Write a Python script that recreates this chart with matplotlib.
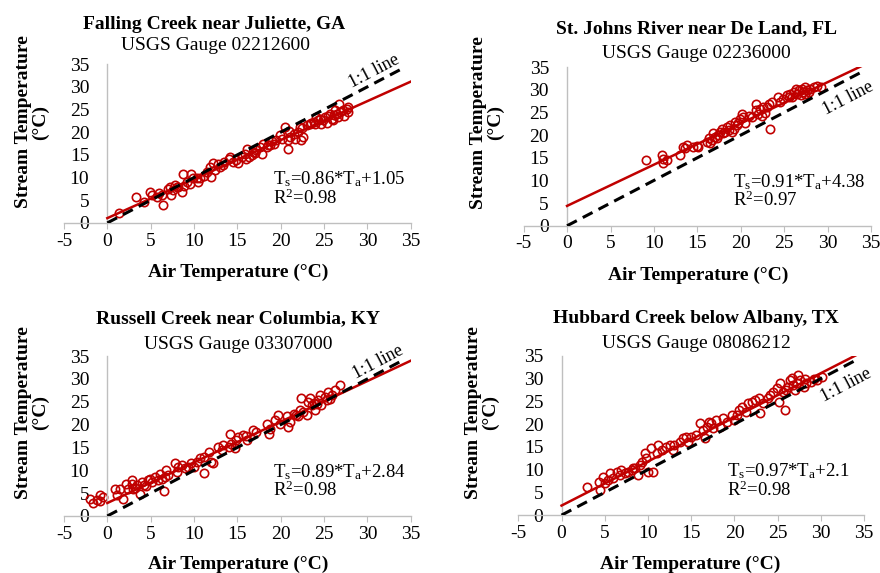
import matplotlib
matplotlib.use("Agg")
import matplotlib.pyplot as plt
import numpy as np

plt.rcParams['font.family'] = ['Liberation Serif', 'DejaVu Serif']
plt.rcParams['mathtext.fontset'] = 'custom'
plt.rcParams['mathtext.rm'] = 'Liberation Serif'
plt.rcParams['mathtext.it'] = 'Liberation Serif:italic'
plt.rcParams['mathtext.bf'] = 'Liberation Serif:bold'
plt.rcParams['axes.unicode_minus'] = False

# ---- data ----
titles = ["Falling Creek near Juliette, GA", "St. Johns River near De Land, FL",
          "Russell Creek near Columbia, KY", "Hubbard Creek below Albany, TX"]
gauges = ["USGS Gauge 02212600", "USGS Gauge 02236000",
          "USGS Gauge 03307000", "USGS Gauge 08086212"]
slopes = [0.86, 0.91, 0.89, 0.97]
intercepts = [1.05, 4.38, 2.84, 2.1]
intercept_txt = ["1.05", "4.38", "2.84", "2.1"]
r2_txt = ["0.98", "0.97", "0.98", "0.98"]

ga_x = [1.3, 3.3, 4.2, 4.9, 5.1, 5.7, 6.0, 6.3, 6.4, 7.0, 7.2, 7.4, 7.6, 7.8, 8.0, 8.2, 8.6, 8.7, 8.8,
        9.2, 9.5, 9.7, 9.9, 10.3, 10.5, 10.7, 11.1, 11.5, 11.8, 12.0, 12.2, 12.4, 12.8, 13.0, 13.4,
        13.5, 14.0, 14.2, 14.5, 14.9, 15.1, 15.5, 15.9, 16.0, 16.1, 16.3, 16.7, 16.8, 17.0, 17.2,
        17.6, 17.8, 18.0, 18.4, 18.5, 18.8, 19.0, 19.2, 19.5, 19.9, 20.1, 20.5, 20.8, 20.9, 21.0,
        21.1, 21.5, 21.7, 22.0, 22.2, 22.4, 22.5, 22.6, 23.0, 23.4, 23.5, 23.8, 24.0, 24.1, 24.3,
        24.5, 24.7, 24.9, 25.1, 25.3, 25.5, 25.7, 25.9, 26.0, 26.1, 26.3, 26.5, 26.6, 26.7, 26.8,
        27.2, 27.3, 27.6, 27.8, 27.8]
ga_y = [2.1, 5.7, 4.6, 6.8, 6.1, 5.7, 6.5, 6.1, 4.0, 7.5, 7.9, 6.1, 7.2, 8.4, 8.0, 7.9, 6.8, 10.7, 8.2,
        9.0, 8.6, 10.7, 9.8, 10.0, 9.0, 9.8, 10.4, 11.2, 12.4, 10.1, 13.1, 11.6, 12.9, 12.4, 12.7,
        13.5, 14.2, 14.6, 13.5, 13.8, 13.1, 14.6, 15.3, 14.2, 16.4, 14.6, 14.9, 15.7, 15.5, 16.0,
        16.8, 15.1, 17.5, 16.8, 17.2, 17.1, 18.0, 17.5, 18.2, 19.3, 18.6, 21.2, 18.2, 16.2, 20.3,
        19.0, 19.7, 18.6, 20.1, 21.2, 18.2, 21.0, 19.0, 21.5, 21.9, 22.0, 22.2, 21.8, 23.4, 22.6,
        22.9, 21.9, 22.6, 23.4, 22.0, 23.5, 24.1, 22.9, 22.7, 23.7, 24.9, 24.1, 23.3, 26.2, 24.5,
        24.9, 23.6, 25.2, 24.5, 25.6]

fl_x = [9.1, 10.9, 11.0, 11.0, 11.5, 13.0, 13.3, 13.6, 13.8, 14.5, 14.9, 15.1, 16.1, 16.3, 16.5,
        16.7, 16.8, 17.0, 17.2, 17.4, 17.6, 17.8, 18.0, 18.2, 18.4, 18.6, 18.8, 19.0, 19.2, 19.3,
        19.5, 19.7, 19.9, 20.1, 20.3, 20.5, 20.9, 21.3, 21.7, 21.8, 22.0, 22.2, 22.4, 22.6, 22.8,
        23.0, 23.2, 23.4, 23.6, 24.3, 24.5, 24.9, 25.3, 25.5, 25.7, 25.9, 26.1, 26.3, 26.5, 26.7,
        26.9, 27.0, 27.2, 27.4, 27.4, 27.6, 27.8, 28.0, 28.4, 28.8, 29.2]
fl_y = [14.5, 15.6, 14.8, 13.9, 14.6, 15.6, 17.4, 17.1, 17.8, 17.4, 17.6, 17.4, 18.5, 19.3, 18.2,
        19.0, 20.4, 19.6, 19.3, 20.0, 20.7, 21.4, 20.4, 20.7, 21.8, 21.1, 22.2, 20.7, 21.4, 22.9,
        22.2, 22.6, 23.6, 24.7, 24.0, 22.6, 24.3, 24.0, 26.9, 25.5, 24.7, 25.8, 24.3, 26.2, 24.8,
        26.2, 26.9, 21.4, 27.3, 28.4, 27.3, 28.0, 28.8, 28.4, 29.1, 28.4, 29.5, 30.2, 29.1, 29.9,
        28.8, 30.2, 29.5, 30.6, 29.1, 29.9, 29.5, 30.2, 30.6, 30.9, 30.7]

ky_x = [-2.0, -1.6, -1.2, -0.8, -0.8, -0.5, 0.9, 1.1, 1.5, 1.8, 2.2, 2.4, 2.8, 2.9, 3.0, 3.2, 3.4,
        3.8, 4.0, 4.2, 4.5, 4.7, 4.9, 5.1, 5.5, 5.9, 6.1, 6.3, 6.5, 6.7, 6.8, 7.0, 7.8, 8.0, 8.2,
        8.6, 9.0, 9.3, 9.7, 10.0, 10.3, 10.7, 11.1, 11.1, 11.7, 12.0, 12.2, 12.8, 13.2, 13.4, 14.0,
        14.2, 14.3, 14.7, 14.9, 15.1, 15.7, 16.0, 16.1, 16.8, 17.2, 18.4, 18.6, 18.8, 19.3, 19.7,
        19.9, 20.7, 20.9, 21.1, 21.5, 21.8, 22.0, 22.2, 22.4, 22.6, 23.0, 23.2, 23.4, 23.6, 23.8,
        24.0, 24.2, 24.3, 24.5, 24.7, 25.1, 25.3, 25.5, 25.7, 25.9, 26.3, 26.8]
ky_y = [3.8, 2.8, 3.4, 4.5, 3.3, 4.2, 5.8, 4.5, 6.0, 3.8, 7.1, 6.0, 7.1, 7.8, 6.0, 6.2, 6.7, 4.9,
        7.4, 6.7, 6.5, 7.8, 8.2, 7.4, 8.5, 7.8, 9.3, 8.2, 5.5, 8.5, 10.0, 9.0, 11.5, 9.6, 10.7,
        11.1, 10.4, 10.7, 11.5, 10.8, 11.8, 12.6, 9.4, 12.9, 14.0, 11.8, 11.5, 15.1, 14.4, 15.5,
        15.0, 18.0, 15.8, 14.8, 16.6, 17.3, 17.7, 17.5, 16.6, 18.8, 18.4, 20.2, 18.0, 19.1, 21.0,
        22.1, 20.2, 21.8, 19.5, 20.6, 22.4, 22.0, 21.8, 23.2, 25.8, 22.8, 22.1, 25.0, 25.8, 24.3,
        24.8, 23.2, 24.6, 25.3, 26.4, 24.3, 26.1, 25.5, 27.2, 25.7, 26.4, 27.5, 28.6]

tx_x = [2.9, 4.3, 4.4, 4.8, 5.0, 5.4, 5.6, 6.0, 6.4, 6.8, 6.9, 7.3, 7.7, 8.1, 8.3, 8.5, 8.9, 9.1,
        9.3, 9.6, 9.8, 10.0, 10.4, 10.6, 11.0, 11.2, 11.6, 12.1, 12.5, 12.9, 13.0, 13.7, 14.1, 14.4,
        14.6, 15.0, 15.6, 16.0, 16.4, 16.6, 16.8, 17.0, 17.3, 17.5, 17.9, 18.3, 18.7, 19.1, 19.7,
        19.9, 20.3, 20.5, 20.9, 21.3, 21.6, 22.0, 22.4, 22.8, 23.0, 23.3, 23.9, 24.1, 24.5, 24.9,
        25.1, 25.3, 25.6, 25.8, 26.0, 26.2, 26.4, 26.6, 26.8, 27.0, 27.2, 27.4, 27.6, 28.0, 28.2,
        28.3, 28.8, 29.2, 29.5, 30.1]
tx_y = [6.2, 7.3, 5.5, 8.4, 7.0, 7.7, 9.2, 8.1, 9.5, 8.8, 9.9, 9.2, 9.5, 9.9, 10.3, 10.3, 8.8, 11.0,
        11.7, 13.6, 12.5, 9.5, 14.7, 9.4, 13.6, 15.4, 14.3, 15.0, 15.4, 14.3, 15.4, 16.1, 16.9, 17.2,
        16.1, 17.2, 17.6, 20.2, 18.7, 16.9, 19.4, 20.5, 20.2, 19.1, 20.9, 19.4, 21.3, 20.5, 22.0,
        20.9, 22.0, 23.1, 23.8, 22.7, 24.6, 24.9, 25.3, 25.7, 22.4, 24.6, 25.7, 26.4, 27.1, 27.9,
        24.9, 29.0, 27.1, 23.1, 27.5, 28.2, 29.7, 30.1, 28.6, 27.5, 29.0, 30.8, 29.7, 28.2, 30.0,
        29.0, 29.3, 30.0, 29.7, 30.3]

xs = [ga_x, fl_x, ky_x, tx_x]
ys = [ga_y, fl_y, ky_y, tx_y]

axes_pos = [[0.0727, 0.611, 0.394, 0.277],
            [0.595, 0.606, 0.395, 0.277],
            [0.0727, 0.0995, 0.394, 0.279],
            [0.589, 0.101, 0.393, 0.278]]
title_xy = [(214, 29), (696, 33), (238, 323), (696, 323)]
sub_xy = [(215, 50), (696, 58), (238, 349), (696, 348)]
xlab_xy = [(238, 277), (698, 280), (238, 569), (690, 569)]
ylab_xy = [(32, 122), (487, 123), (32, 413), (482, 413)]
oneone_xy = [(30.8, 33.4), (32.3, 28.2), (31.2, 33.7), (32.9, 28.6)]

W, H = 880, 573
red = '#C00000'
grey = '#BFBFBF'

fig = plt.figure(figsize=(8.8, 5.73), dpi=100)

for i in range(4):
    ax = fig.add_axes(axes_pos[i])
    ax.set_xlim(-5, 35)
    ax.set_ylim(0, 35)
    for s in ['top', 'right']:
        ax.spines[s].set_visible(False)
    ax.spines['left'].set_position(('data', 0))
    ax.spines['left'].set_color(grey)
    ax.spines['bottom'].set_color(grey)
    ax.spines['left'].set_linewidth(1)
    ax.spines['bottom'].set_linewidth(1)
    ax.set_xticks(np.arange(-5, 36, 5))
    ax.set_yticks(np.arange(0, 36, 5))
    ax.tick_params(axis='x', direction='out', length=4, color=grey, labelsize=14, pad=3)
    ax.tick_params(axis='y', length=0, labelsize=14, pad=13)
    ax.patch.set_alpha(0)

    ax.plot(xs[i], ys[i], 'o', mfc='none', mec=red, mew=1.2, ms=6, zorder=2)
    fx = np.array([0, 35])
    ax.plot(fx, slopes[i] * fx + intercepts[i], color=red, lw=1.8, zorder=3)
    ax.plot([0, 34], [0, 34], color='black', lw=2.2, dashes=(3.6, 2.2), zorder=4)

    ax.text(oneone_xy[i][0], oneone_xy[i][1], "1:1 line", fontsize=13, rotation=45,
            transform_rotates_text=True, ha='center', va='center', rotation_mode='anchor',
            clip_on=False)
    eq = ("T$_{\\mathrm{s}}$=%.2f*T$_{\\mathrm{a}}$+%s\nR$^{2}$=%s"
          % (slopes[i], intercept_txt[i], r2_txt[i]))
    ax.text(19.1, 7.6, eq, fontsize=13.5, ha='left', va='center', linespacing=0.95)

    fig.text(title_xy[i][0] / W, 1 - title_xy[i][1] / H, titles[i], fontsize=14,
             fontweight='bold', ha='center', va='baseline')
    fig.text(sub_xy[i][0] / W, 1 - sub_xy[i][1] / H, gauges[i], fontsize=14,
             ha='center', va='baseline')
    fig.text(xlab_xy[i][0] / W, 1 - xlab_xy[i][1] / H, "Air Temperature (°C)", fontsize=14,
             fontweight='bold', ha='center', va='baseline')
    fig.text(ylab_xy[i][0] / W, 1 - ylab_xy[i][1] / H, "Stream Temperature\n(°C)", fontsize=14,
             fontweight='bold', ha='center', va='center', rotation=90, multialignment='center',
             linespacing=1.0)

fig.savefig("out.png", dpi=100)
